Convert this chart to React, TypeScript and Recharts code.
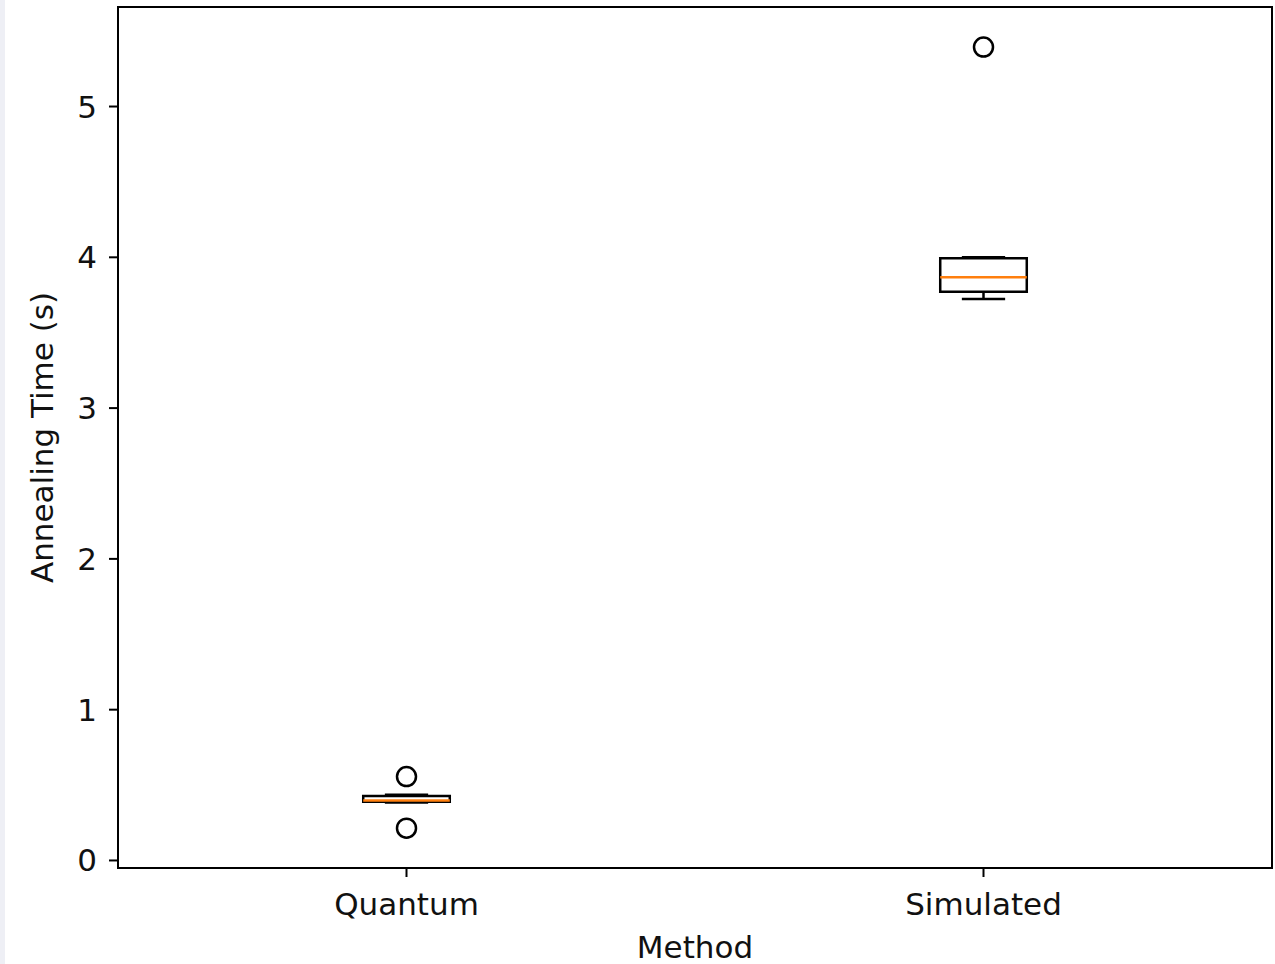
import {
  ComposedChart, XAxis, YAxis, Scatter, ReferenceArea, ReferenceLine, Label,
} from 'recharts'

// box plot stats
const methods = ['Quantum', 'Simulated']
const positions = [1, 2]
const whiskerLow = [0.385, 3.723]
const q1 = [0.39, 3.772]
const medians = [0.397, 3.867]
const q3 = [0.428, 3.993]
const whiskerHigh = [0.435, 4.0]
const fliers = [[0.556, 0.214], [5.394]]
const yTicks = [0, 1, 2, 3, 4, 5]

const X_DOMAIN: [number, number] = [0.5, 2.5]
const Y_DOMAIN: [number, number] = [-0.05, 5.66]
const BOX_HALF = 0.075
const CAP_HALF = 0.0375
const FONT = 'DejaVu Sans, sans-serif'
const LW = 2.5

const flierPoints = fliers.flatMap((vals, i) => vals.map((y) => ({ x: positions[i], y })))

const FlierShape = (props: any) => (
  <circle cx={props.cx} cy={props.cy} r={9.5} fill="none" stroke="#000" strokeWidth={LW} />
)

export default function App() {
  return (
    <div style={{ position: 'absolute', left: 0, top: 0, width: 1275, height: 964, background: '#fff' }}>
      <div style={{ position: 'absolute', left: 0, top: 0, width: 5, height: 964, background: '#eeeff5' }} />
      <ComposedChart
        width={1275}
        height={964}
        margin={{ top: 7, right: 3, bottom: 0, left: 0 }}
        style={{ fontFamily: FONT }}
      >
        <XAxis
          dataKey="x"
          type="number"
          domain={X_DOMAIN}
          ticks={positions}
          tickFormatter={(v: number) => methods[v - 1]}
          height={96}
          tickSize={9}
          tickMargin={16}
          axisLine={{ stroke: '#000', strokeWidth: 2 }}
          tickLine={{ stroke: '#000', strokeWidth: 2 }}
          tick={{ fontSize: 31, fill: '#111', fontFamily: FONT }}
          allowDataOverflow
        >
          <Label value="Method" position="insideBottom" offset={6} style={{ fontSize: 31, fill: '#111', fontFamily: FONT }} />
        </XAxis>
        <YAxis
          type="number"
          domain={Y_DOMAIN}
          ticks={yTicks}
          width={118}
          tickSize={9}
          tickMargin={12}
          axisLine={{ stroke: '#000', strokeWidth: 2 }}
          tickLine={{ stroke: '#000', strokeWidth: 2 }}
          tick={{ fontSize: 31, fill: '#111', fontFamily: FONT }}
          allowDataOverflow
        >
          <Label
            value="Annealing Time (s)"
            angle={-90}
            position="insideLeft"
            offset={42}
            textAnchor="middle"
            style={{ fontSize: 31, fill: '#111', fontFamily: FONT }}
          />
        </YAxis>

        {/* frame around the plot area */}
        <ReferenceArea
          x1={X_DOMAIN[0]}
          x2={X_DOMAIN[1]}
          y1={Y_DOMAIN[0]}
          y2={Y_DOMAIN[1]}
          fill="none"
          stroke="#000"
          strokeWidth={2}
        />

        {positions.map((p, i) => (
          <ReferenceArea
            key={`box-${i}`}
            x1={p - BOX_HALF}
            x2={p + BOX_HALF}
            y1={q1[i]}
            y2={q3[i]}
            fill="none"
            stroke="#000"
            strokeWidth={LW}
          />
        ))}
        {positions.map((p, i) => (
          <ReferenceLine
            key={`wl-${i}`}
            segment={[{ x: p, y: whiskerLow[i] }, { x: p, y: q1[i] }]}
            stroke="#000"
            strokeWidth={LW}
          />
        ))}
        {positions.map((p, i) => (
          <ReferenceLine
            key={`wh-${i}`}
            segment={[{ x: p, y: q3[i] }, { x: p, y: whiskerHigh[i] }]}
            stroke="#000"
            strokeWidth={LW}
          />
        ))}
        {positions.map((p, i) => (
          <ReferenceLine
            key={`cl-${i}`}
            segment={[{ x: p - CAP_HALF, y: whiskerLow[i] }, { x: p + CAP_HALF, y: whiskerLow[i] }]}
            stroke="#000"
            strokeWidth={LW}
          />
        ))}
        {positions.map((p, i) => (
          <ReferenceLine
            key={`ch-${i}`}
            segment={[{ x: p - CAP_HALF, y: whiskerHigh[i] }, { x: p + CAP_HALF, y: whiskerHigh[i] }]}
            stroke="#000"
            strokeWidth={LW}
          />
        ))}
        {positions.map((p, i) => (
          <ReferenceLine
            key={`med-${i}`}
            segment={[{ x: p - BOX_HALF, y: medians[i] }, { x: p + BOX_HALF, y: medians[i] }]}
            stroke="#ff7f0e"
            strokeWidth={LW}
          />
        ))}
        <Scatter
          data={flierPoints}
          dataKey="y"
          shape={FlierShape}
          isAnimationActive={false}
        />
      </ComposedChart>
    </div>
  )
}
